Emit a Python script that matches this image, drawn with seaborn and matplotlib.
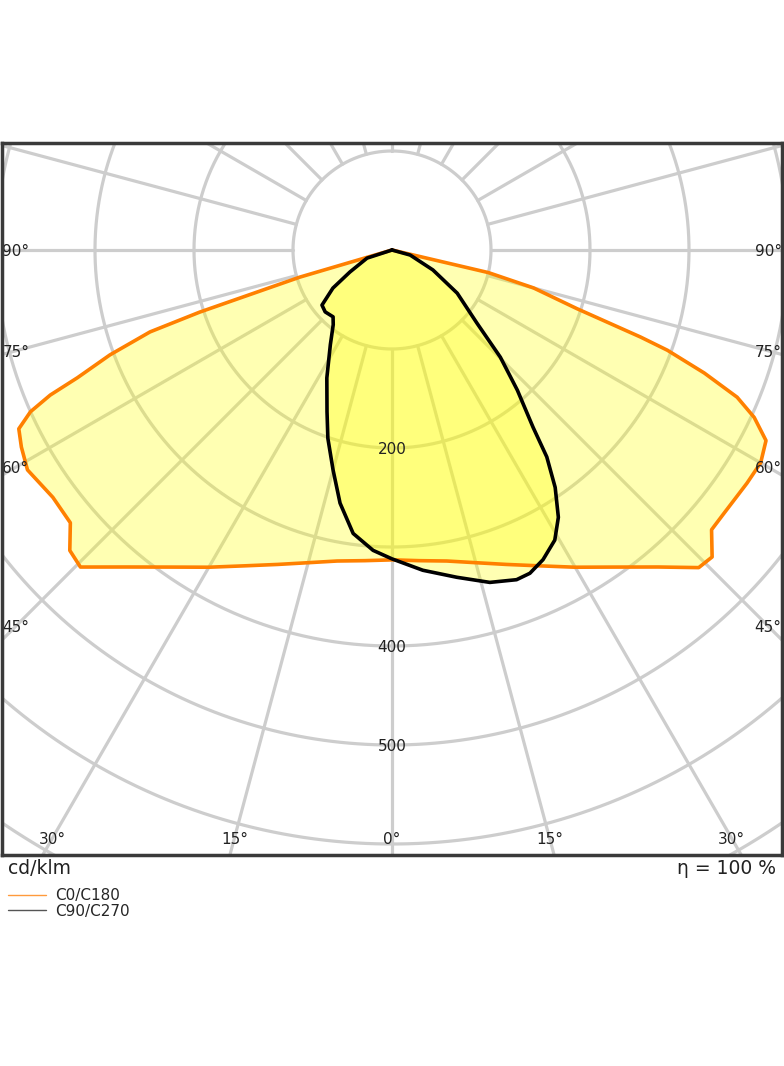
import numpy as np
import matplotlib
matplotlib.use('Agg')
import matplotlib.pyplot as plt
from matplotlib.lines import Line2D
import seaborn as sns

# gamma = angle from nadir (deg), values in cd/klm
c0_gamma = [0, 5, 10, 15, 20, 25, 30, 35, 40, 44, 46.2, 48.8, 51.6, 56.7, 60, 63, 65.2, 66.9,
            68.5, 70, 70.7, 72.4, 75, 76.8, 79, 90]
c0_cd = [313, 315, 319, 327, 338, 352, 370, 391, 418, 446, 448, 429, 428, 429, 430, 424, 403, 379,
         339, 296, 266, 196, 148, 100, 0, 0]

c180_gamma = [0, 5, 10, 15, 20, 25, 30, 35, 40, 44.5, 47, 49.7, 53.9, 58.9, 62, 64.4, 65.9, 67,
              67.9, 69.6, 71.3, 72.1, 73.6, 76, 90]
c180_cd = [313, 315, 319, 327, 338, 352, 370, 391, 418, 449, 445, 426, 424, 430, 424, 418, 400, 375,
           343, 304, 258, 204, 97, 0, 0]

c90_gamma = [0, 5.5, 11.2, 16.4, 20.7, 23.1, 26, 29.3, 31.9, 34.5, 36.8, 38.5, 41.8, 45.3, 49.3,
             56.5, 64, 74.5, 90]
c90_cd = [312, 325, 337, 350, 356, 355, 348, 336, 318, 291, 261, 229, 190, 154, 113, 79, 46, 19, 0]

c270_gamma = [0, 3.6, 7.8, 11.6, 15, 18.8, 21.9, 27, 33.1, 38.2, 41.4, 47.2, 51.8, 57.2, 62.4, 72, 90]
c270_cd = [312, 304, 289, 261, 230, 201, 176, 145, 114, 96, 90, 92, 90, 71, 48, 26.5, 0]

rings = [100, 200, 300, 400, 500, 600, 700, 800]
ring_labels = [200, 400, 500]
angle_labels = [0, 15, 30, 45, 60, 75, 90]

sns.set_theme(style='white')
plt.rcParams['font.family'] = ['DejaVu Sans']

fig = plt.figure(figsize=(7.84, 10.66), dpi=100)
ax = fig.add_axes([2 / 784, 1 - 855 / 1066, 780 / 784, 712 / 1066])

grid_c = '#cdcdcd'


def to_xy(gamma, cd, side):
    g = np.radians(gamma)
    cd = np.asarray(cd, dtype=float)
    return side * cd * np.sin(g), -cd * np.cos(g)


def loop(g_right, cd_right, g_left, cd_left):
    xr, yr = to_xy(g_right, cd_right, 1)
    xl, yl = to_xy(g_left, cd_left, -1)
    return np.concatenate([xr[::-1], xl]), np.concatenate([yr[::-1], yl])


# grid
th = np.linspace(0, 2 * np.pi, 721)
for r in rings:
    ax.plot(r * np.sin(th), r * np.cos(th), color=grid_c, lw=2.3, zorder=1)
for a in range(0, 360, 15):
    t = np.radians(a)
    ax.plot([100 * np.sin(t), 1000 * np.sin(t)], [-100 * np.cos(t), -1000 * np.cos(t)],
            color=grid_c, lw=2.3, zorder=1)

x0, y0 = loop(c0_gamma, c0_cd, c180_gamma, c180_cd)
x9, y9 = loop(c90_gamma, c90_cd, c270_gamma, c270_cd)

ax.fill(x0, y0, color='yellow', alpha=0.3, lw=0, zorder=2)
ax.fill(x9, y9, color='yellow', alpha=0.3, lw=0, zorder=2)
sns.lineplot(x=x0, y=y0, sort=False, estimator=None, color='#ff8000', lw=2.6, ax=ax, zorder=3)
sns.lineplot(x=x9, y=y9, sort=False, estimator=None, color='black', lw=2.6, ax=ax, zorder=3)

# ring labels
for r in ring_labels:
    ax.text(0, -r, str(r), ha='center', va='center_baseline', fontsize=11, color='#222222', zorder=5)

# angle labels where spokes leave the frame
half_w, bottom = 380, 594
for a in angle_labels:
    t = np.radians(a)
    if bottom * np.tan(t) <= half_w:
        px, py = bottom * np.tan(t), -bottom
    else:
        px, py = half_w, -half_w * np.cos(t) / np.sin(t)
    sides = [1] if a == 0 else [-1, 1]
    for s in sides:
        ax.text(s * px, py, f'{a}°', ha='center', va='center_baseline', fontsize=11,
                color='#222222', zorder=5)

ax.set_xlim(-390 / 0.99, 390 / 0.99)
ax.set_ylim(-605 / 0.99, 107 / 0.99)
ax.set_aspect('equal')
ax.set_xticks([])
ax.set_yticks([])
ax.set_xlabel('')
ax.set_ylabel('')
for sp in ax.spines.values():
    sp.set_visible(True)
    sp.set_color('#3a3a3a')
    sp.set_linewidth(2.5)
    sp.set_zorder(6)

fig.text(8 / 784, 1 - 868 / 1066, 'cd/klm', ha='left', va='center', fontsize=13.5, color='#222222')
fig.text(776 / 784, 1 - 868 / 1066, 'η = 100 %', ha='right', va='center', fontsize=13.5, color='#222222')

handles = [Line2D([], [], color='#ff9a3c', lw=1.0),
           Line2D([], [], color='#555555', lw=1.0)]
fig.legend(handles, ['C0/C180', 'C90/C270'], loc='upper left',
           bbox_to_anchor=(8 / 784, 1 - 888 / 1066), frameon=False, fontsize=11,
           handlelength=2.5, handletextpad=0.6, labelspacing=0.05, borderaxespad=0, borderpad=0)

fig.savefig('out.png', dpi=100, facecolor='white')
